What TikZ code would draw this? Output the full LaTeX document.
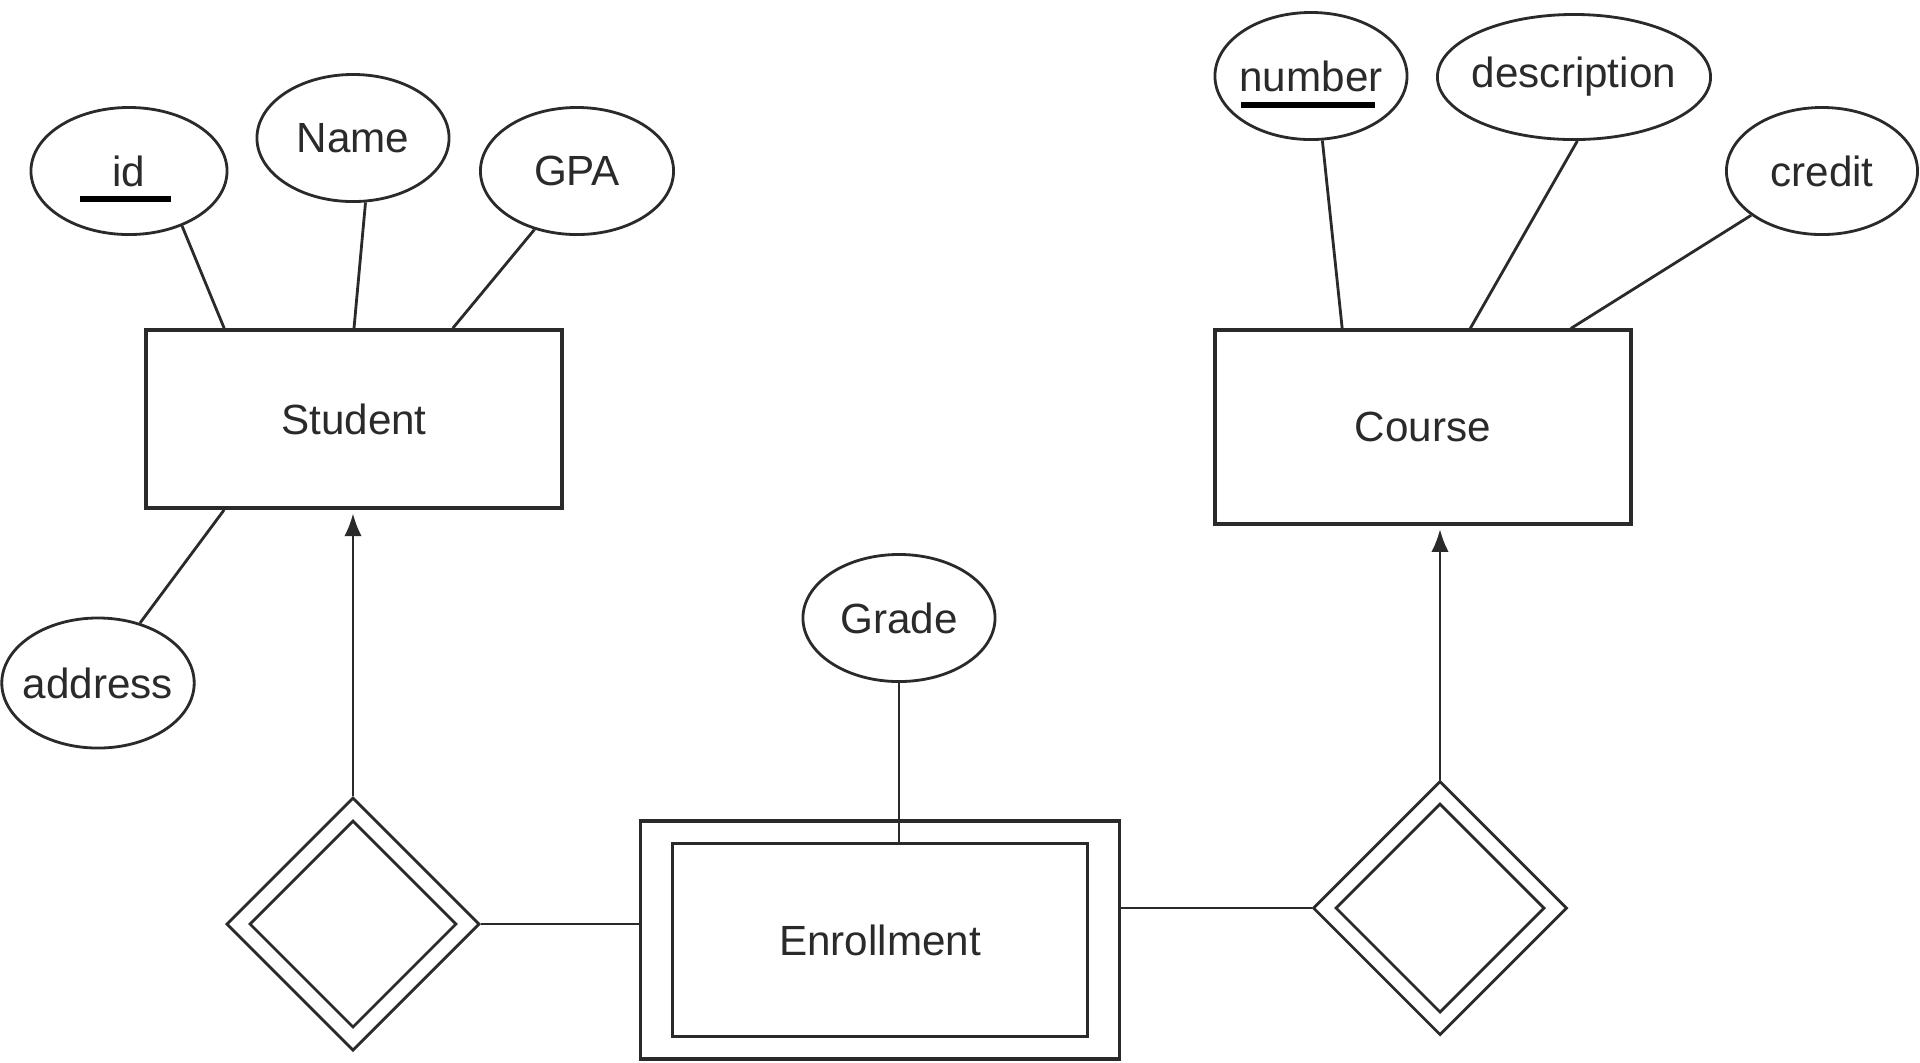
\documentclass[tikz,border=0pt]{standalone}
\usepackage{fontspec}
\setmainfont{Liberation Sans}
\usepackage{tikz}
\usetikzlibrary{shapes.geometric, arrows.meta}
\definecolor{ink}{HTML}{2A2A2A}
\tikzstyle{attr} = [ellipse, draw=ink, line width=0.8pt, minimum width=1.93cm, minimum height=1.27cm, inner xsep=-2pt, inner ysep=0pt, text=ink, font=\fontsize{12}{14}\selectfont]
\tikzstyle{entity} = [rectangle, draw=ink, line width=1pt, minimum width=4.16cm, inner sep=0pt, text=ink, font=\fontsize{12}{14}\selectfont]
\tikzstyle{relation} = [diamond, aspect=1, draw=ink, line width=0.8pt, inner sep=0pt]
\tikzstyle{link} = [draw=ink, line width=0.8pt]
\tikzstyle{arrow} = [link, ->, >={Latex[length=6.5pt,width=5pt]}, shorten >=1pt]
\tikzstyle{keyline} = [black, line width=1.5pt]

\begin{document}
\begin{tikzpicture}[x=0.01cm, y=-0.01cm]
  \useasboundingbox (0,0) rectangle (1920,1062);

  % Student side
  \node (student) [entity, minimum height=1.78cm] at (354,419) {Student};
  \node (id)      [attr, minimum width=1.96cm] at (129,171) {id};
  \node (name)    [attr, minimum width=1.92cm] at (353,138) {Name};
  \node (gpa)     [attr] at (577,171) {GPA};
  \node (address) [attr, minimum width=1.91cm, minimum height=1.3cm] at (98,683) {address};
  \node (sdia)    [relation, minimum width=2.53cm, minimum height=2.53cm] at (353,924) {};
  \node (sdiain)  [relation, minimum width=2.07cm, minimum height=2.07cm] at (353,924) {};

  % Course side
  \node (course)  [entity, minimum height=1.935cm] at (1423,427) {Course};
  \node (number)  [attr, minimum width=1.92cm] at (1311,76) {number};
  \node (descr)   [attr, minimum width=2.73cm, minimum height=1.25cm] at (1574,77) {description};
  \node (credit)  [attr, minimum width=1.91cm] at (1822,171) {credit};
  \node (cdia)    [relation, minimum width=2.54cm, minimum height=2.54cm] at (1440,908) {};
  \node (cdiain)  [relation, minimum width=2.09cm, minimum height=2.09cm] at (1440,908) {};

  % weak entity
  \node (enrout)  [entity, minimum width=4.79cm, minimum height=2.38cm] at (880,940) {};
  \node (enr)     [entity, minimum width=4.15cm, minimum height=1.93cm] at (880,940) {Enrollment};
  \node (grade)   [attr, minimum width=1.92cm] at (899,618) {Grade};

  % keys
  \draw [keyline] ([xshift=-0.49cm, yshift=-0.28cm]id.center) -- ([xshift=0.42cm, yshift=-0.28cm]id.center);
  \draw [keyline] ([xshift=-0.70cm, yshift=-0.29cm]number.center) -- ([xshift=0.64cm, yshift=-0.29cm]number.center);

  % attribute links
  \draw [link] (id.-46) -- ([xshift=0.8cm]student.north west);
  \draw [link] (name.-79) -- (student.north);
  \draw [link] (gpa.-126) -- ([xshift=-1.11cm]student.north east);
  \draw [link] (address.55) -- ([xshift=0.8cm]student.south west);
  \draw [link] (number.-80) -- ([xshift=1.29cm]course.north west);
  \draw [link] (descr.-87) -- ([xshift=2.57cm]course.north west);
  \draw [link] (credit.-148) -- ([xshift=-0.62cm]course.north east);
  \draw [link] (grade.south) -- (grade.south |- enr.north);

  % relationships
  \draw [arrow] (sdia.north) -- (sdia.north |- student.south);
  \draw [arrow] (cdia.north) -- (cdia.north |- course.south);
  \draw [link] (sdia.east) -- (sdia.east -| enrout.west);
  \draw [link] (cdia.west) -- (cdia.west -| enrout.east);
\end{tikzpicture}
\end{document}
